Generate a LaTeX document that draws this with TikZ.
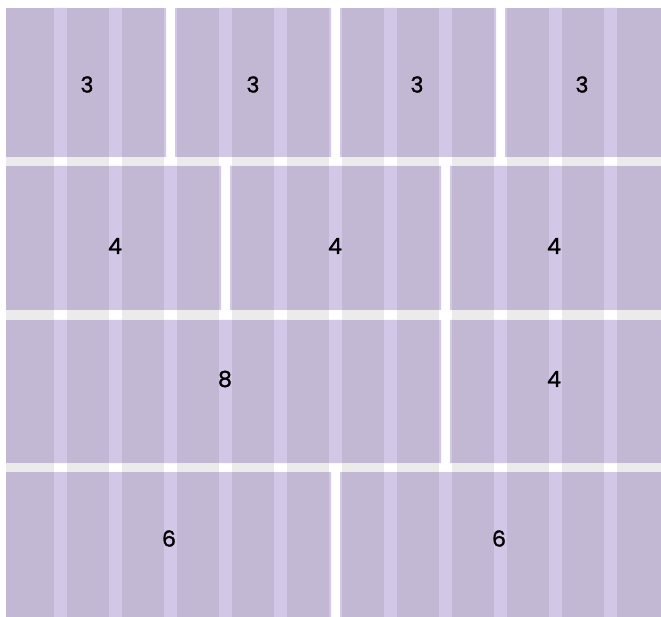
\documentclass[tikz,border=0pt]{standalone}
\usepackage{fontspec}
\newfontfamily\gridfont{Poppins}[FakeBold=1.3]
\definecolor{fillBlock}{HTML}{C3B8D3}
\definecolor{fillGutter}{HTML}{D2C7E6}
\definecolor{fillBand}{HTML}{EBEBEB}

\begin{document}
\begin{tikzpicture}[
    x=1pt, y=-1pt,
    blocklabel/.style={font=\gridfont\fontsize{22}{26}\selectfont, text=black, inner sep=0pt}
]
    \useasboundingbox (0,0) rectangle (661,617);

    % ==========================================
    % 1. ROW GAPS (grey bands)
    % ==========================================
    \fill[fillBand] (6,157) rectangle (661,166);
    \fill[fillBand] (6,310) rectangle (661,320);
    \fill[fillBand] (6,463) rectangle (661,472);
    \foreach \g in {54,109,...,604} {
        \fill[white] (\g,157) rectangle +(13,9);
        \fill[white] (\g,310) rectangle +(13,10);
        \fill[white] (\g,463) rectangle +(13,9);
    }

    % ==========================================
    % 2. BLOCKS
    % ==========================================
    % row 1: 3 + 3 + 3 + 3
    \fill[fillBlock] (6,8) rectangle (166,157);
    \fill[fillBlock] (175,8) rectangle (331,157);
    \fill[fillBlock] (340,8) rectangle (496,157);
    \fill[fillBlock] (505,8) rectangle (661,157);
    % row 2: 4 + 4 + 4
    \fill[fillBlock] (6,166) rectangle (221,310);
    \fill[fillBlock] (230,166) rectangle (441,310);
    \fill[fillBlock] (450,166) rectangle (661,310);
    % row 3: 8 + 4
    \fill[fillBlock] (6,320) rectangle (441,463);
    \fill[fillBlock] (450,320) rectangle (661,463);
    % row 4: 6 + 6
    \fill[fillBlock] (6,472) rectangle (331,617);
    \fill[fillBlock] (340,472) rectangle (661,617);

    % gutters show through the blocks only
    \begin{scope}
        \clip (6,8) rectangle (166,157) (175,8) rectangle (331,157)
              (340,8) rectangle (496,157) (505,8) rectangle (661,157)
              (6,166) rectangle (221,310) (230,166) rectangle (441,310)
              (450,166) rectangle (661,310)
              (6,320) rectangle (441,463) (450,320) rectangle (661,463)
              (6,472) rectangle (331,617) (340,472) rectangle (661,617);
        \foreach \g in {54,109,...,604}
            \fill[fillGutter] (\g,0) rectangle +(13,617);
    \end{scope}

    % ==========================================
    % 3. SPAN LABELS
    % ==========================================
    \node[blocklabel] (r1a) at (87,84.5) {3};
    \node[blocklabel] (r1b) at (253,84.5) {3};
    \node[blocklabel] (r1c) at (417,84.5) {3};
    \node[blocklabel] (r1d) at (582,84.5) {3};

    \node[blocklabel] (r2a) at (115,246) {4};
    \node[blocklabel] (r2b) at (335,246) {4};
    \node[blocklabel] (r2c) at (554,246) {4};

    \node[blocklabel] (r3a) at (225,379) {8};
    \node[blocklabel] (r3b) at (554,379) {4};

    \node[blocklabel] (r4a) at (169,538.5) {6};
    \node[blocklabel] (r4b) at (499,538.5) {6};

\end{tikzpicture}
\end{document}
